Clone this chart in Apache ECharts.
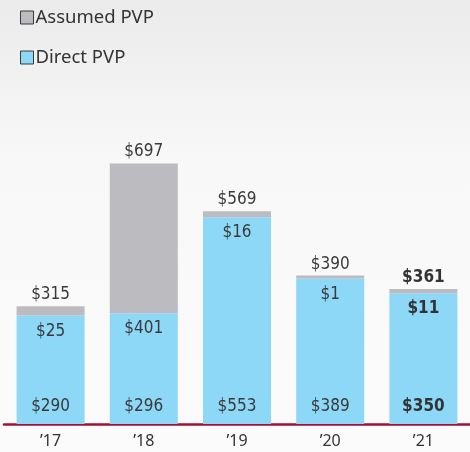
<!DOCTYPE html>
<html>
<head>
<meta charset="utf-8">
<script src="https://cdn.jsdelivr.net/npm/echarts@6/dist/echarts.min.js"></script>
<style>
  html, body { margin: 0; padding: 0; }
  #chart { width: 470px; height: 452px; }
</style>
</head>
<body>
<div id="chart"></div>
<script>
// PVP by year ($ millions)
const years = ['\u201917', '\u201918', '\u201919', '\u201920', '\u201921'];
const directPvp = [290, 296, 553, 389, 350];
const assumedPvp = [25, 401, 16, 1, 11];
const totalPvp = [315, 697, 569, 390, 361];

const labelFont = '"Liberation Sans Narrow", "DejaVu Sans Condensed", "Noto Sans", sans-serif';
const lastIdx = years.length - 1;

const chart = echarts.init(document.getElementById('chart'));

function money(v, i) {
  return i === lastIdx ? '{b|$' + v + '}' : '$' + v;
}

const richBold = {
  b: { fontFamily: labelFont, fontSize: 17, fontWeight: 'bold', color: '#333' }
};

chart.setOption({
  animation: false,
  backgroundColor: new echarts.graphic.LinearGradient(0, 0, 0, 1, [
    { offset: 0, color: '#ebebeb' },
    { offset: 0.35, color: '#f8f8f8' },
    { offset: 1, color: '#fbfbfb' }
  ]),
  legend: {
    orient: 'vertical',
    left: 15,
    top: 3,
    itemGap: 21,
    itemWidth: 13,
    itemHeight: 13,
    icon: 'rect',
    data: ['Assumed PVP', 'Direct PVP'],
    itemStyle: { borderColor: '#3a3a3a', borderWidth: 1 },
    textStyle: { fontFamily: '"Noto Sans", sans-serif', fontSize: 18.5, color: '#333', padding: [0, 0, 0, -3] }
  },
  grid: { left: 4, right: 0, top: 125, bottom: 28 },
  xAxis: {
    type: 'category',
    data: years,
    axisTick: { show: false },
    axisLine: { lineStyle: { color: '#a0123a', width: 2.5 } },
    axisLabel: { margin: 9, fontFamily: '"Noto Sans", sans-serif', fontSize: 16, color: '#333' }
  },
  yAxis: {
    type: 'value',
    min: 0,
    max: 800,
    show: false,
    splitLine: { show: false }
  },
  series: [
    {
      name: 'Direct PVP',
      type: 'bar',
      stack: 'pvp',
      barWidth: 68,
      barGap: '-100%',
      data: directPvp,
      itemStyle: { color: '#8dd7f7' },
      label: {
        show: true,
        position: 'insideBottom',
        distance: 9,
        fontFamily: labelFont,
        fontSize: 17,
        color: '#3a3a3a',
        formatter: p => money(directPvp[p.dataIndex], p.dataIndex),
        rich: richBold
      }
    },
    {
      name: 'Assumed PVP',
      type: 'bar',
      stack: 'pvp',
      barWidth: 68,
      barMinHeight: 3,
      data: assumedPvp,
      itemStyle: { color: '#bcbcc0' },
      label: {
        show: true,
        position: 'top',
        distance: 3,
        fontFamily: labelFont,
        fontSize: 17,
        color: '#3a3a3a',
        formatter: p => money(totalPvp[p.dataIndex], p.dataIndex),
        rich: richBold
      }
    },
    {
      // carries the assumed value just under the top of the blue bar
      name: 'assumedLabel',
      type: 'bar',
      barWidth: 68,
      barGap: '-100%',
      silent: true,
      data: directPvp,
      itemStyle: { color: 'rgba(0,0,0,0)' },
      label: {
        show: true,
        position: 'insideTop',
        distance: 7,
        fontFamily: labelFont,
        fontSize: 17,
        color: '#3a3a3a',
        formatter: p => money(assumedPvp[p.dataIndex], p.dataIndex),
        rich: richBold
      }
    }
  ]
});
</script>
</body>
</html>
